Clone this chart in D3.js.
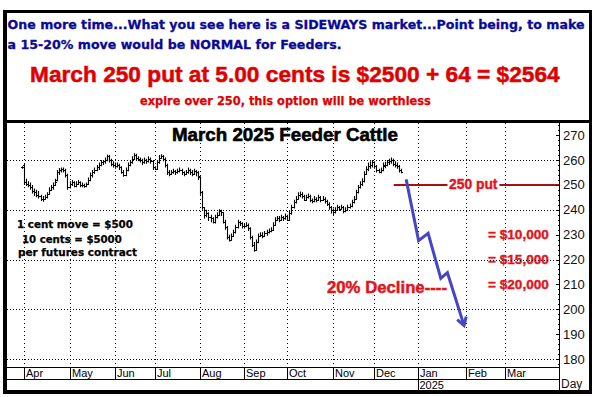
<!DOCTYPE html>
<html><head><meta charset="utf-8">
<script src="https://cdn.jsdelivr.net/npm/d3@7"></script>
<style>body{margin:0;background:#fff}svg{display:block}</style>
</head><body>
<svg id="c" width="600" height="397"></svg>
<script>
// ---- data (daily bars, trading-day index; index 0 = first trading day of April 2024) ----
const firstBarIndex = -1;
const barOpen = [257,258,251,250.5,250,249,247.5,247,246,245.5,244.5,244.5,245,246.5,248,249,250,252,255,256,256.5,256,254,249,250.5,251,249.5,250.5,251,250,250,249.5,250.5,252,254,255,256,257,258,259,259.5,260,261.5,260,258.5,258,257.5,258,257,255,254,256,258,259,260.5,262,261,260.5,260,259,260,259.5,260.5,259.5,257,256.5,259,261,261.5,260.5,258,255,254.5,255,255.5,255,255.5,256,255,254.5,255,256,255,254.5,255.5,255,253,247,241,238,238.5,237,236.5,235,237,238,239.5,239,235,233,229,228,229.5,231,233,235,234.5,233.5,233.5,234,232.5,229,226,224,227,229.5,230,229.5,230.5,231,231.5,232,234,236,236.5,236,237,236.5,237.5,236,238.5,241,243,244.5,246,246.5,245.5,244,245,245.5,244,243.5,244.5,244,245,244,244.5,243.5,242.5,241,240,239,240,241,240.5,241,239.5,240,241,241.5,243,244.5,247,249,250.5,251.5,254.5,256.5,257.5,258,259,257.5,256,255,256,258,258,259,259.5,260,258.5,258,257.5,256];
const barHigh = [257.5,258.5,252.5,251.5,251,250,248.5,248,247.5,246,245.5,246,247,249,250,251,252.5,256,256.8,257,257,256.5,254.5,251.5,252,251.5,251.5,252,251.5,251,250.5,251,253,255,256,257,258,259,260,260,261,262.2,262,260.5,259.5,259,259,258.5,257.5,256,257,259,260,261.5,262.7,262.5,261.5,261,260.5,261,260.5,261.5,261,260,257.5,260,262,262.3,262,261,258.5,256,256,256.5,256,256.5,257,256.5,255.5,256,257,256.5,256,256.5,256,255.5,253.5,247.5,241,240,239,238,237,238,239,240.2,240,239,236,233.5,230,230.5,232,234,236,235.5,235,234.5,235,234.5,233,229.5,227,228,230.5,231,231,231.5,232,232.5,233,235,237,237.5,237.5,238,237.5,238.5,238,239.5,242,244,245.5,247,247.3,247,246,246,246.5,246,244.5,245.5,245,246,245.5,245.5,245,244,243,241.5,240.5,241,242,241.5,242,241.5,241,242,242.5,244,245.5,248,250,251.5,252.7,255.5,257.5,259,259.5,260,259.5,258,256.5,257,259,259.3,260,260.5,261,260.5,259.5,259,258,256.5];
const barLow = [256.5,250,249.5,249,248,246.5,245.5,245,244.5,243.5,243.2,244,244.5,246,247.5,248,249.5,251.5,254,255,255,253,248,248.5,249.5,249,249,250,249,249,248.8,249,250,251.5,253,254.5,255.5,256,257.5,258,258.5,259.5,259,257.5,257,256.5,257,256,254.5,253.3,253.5,255.5,257.5,258.5,260,260,259.5,259,258,258.5,258.5,259,258.5,256,256,256,258.5,260.5,259.5,257,254,253.5,254,254.5,254,254.5,255,254,253.5,254,254.5,254,253.5,254,253.5,252,246,240,236.5,237,235.5,235,234.5,234.5,236.5,237.5,237.5,234.5,232,228,227.2,227.5,229,230.5,232.5,233.5,232.5,232.5,233,231.5,228,225,223.1,223.5,226.5,229,228.5,229,229.5,230.5,231,231.5,233.5,235.5,235,235.5,235.5,236,235.5,235.5,238,240.5,242.5,244,245,244.5,243.5,243.5,244.5,243,242.6,243,243,243.5,243,243.5,242.5,241.5,240,238.5,237.9,238.5,239.5,239.5,240,238.6,239,239.5,240.5,241,242.5,244,246.5,248.5,249.5,251,254,255.5,256.5,257,256.5,255,254.7,254.7,255.5,256.7,257.5,258,258.5,257.5,257,256.5,255,254.7];
const barClose = [257,251,250.5,250,249,247.5,247,246,245.5,244.5,244.5,245,246.5,248,249,250,251,255,256,256.5,256,254,249,250.5,251,249.5,250.5,251,250,250,249.5,250.5,252,254,255,256,257,258,259,259.5,260,261.5,260,258.5,258,257.5,258,257,255,254,256,258,259,260.5,262,261,260.5,260,259,260,259.5,260.5,259.5,257,256.5,259,261,261.5,260.5,258,255,254.5,255,255.5,255,255.5,256,255,254.5,255,256,255,254.5,255.5,255,253.5,247,241,238,238.5,237,236.5,235,237,238,239.5,239,235,233,229,228,229.5,231,233,235,234.5,233.5,233.5,234,232.5,229,226,224,227,229.5,230,229.5,230.5,231,231.5,232,234,236,236.5,236,237,236.5,237.5,236,238.5,241,243,244.5,246,246.5,245.5,244,245,245.5,244,243.5,244.5,244,245,244,244.5,243.5,242.5,241,240,239,240,241,240.5,241,239.5,240,241,241.5,243,244.5,247,249,250.5,251.5,254.5,256.5,257.5,258,259,257.5,256,255,256,257.5,258,259,259.5,260,258.5,258,257.5,256,255];

const monthLabels = ["Apr","May","Jun","Jul","Aug","Sep","Oct","Nov","Dec","Jan","Feb","Mar"];
const monthStarts = [0,22,44,63,85,106,127,149,169,190,213,232];
const yearLabels = ["2025"];
const yearStarts = [190];
const priceTicks = [180,190,200,210,220,230,240,250,260,270];
const gridPrices = [180,200,220,240,260];

const arrowIdx   = [184.3,190.3,194.9,201.0,204.2,212.2];
const arrowPrice = [252.2,227.6,230.5,212.4,214.7,193.5];
const putStrike = 250, putStartIdx = 178.3;
const payoffLabels = ["= $10,000","= $15,000","= $20,000"];
const payoffPrices = [230,220,210];
const noteLines = ["1 cent move = $500","10 cents = $5000","per futures contract"];

// ---- layout ----
const svg = d3.select("#c");
const L = 6.7, R = 559, T = 122.5, B = 367;
const x = d3.scaleLinear().domain([-8.3, 258]).range([L, R]);
const y = d3.scaleLinear().domain([180, 260]).range([359, 160]);
const ARIAL = "'Liberation Sans', Arial, sans-serif";
const VERD = "'DejaVu Sans', Verdana, sans-serif";

function fit(sel, w){
  const fs = parseFloat(sel.attr("font-size"));
  const len = sel.node().getComputedTextLength();
  sel.attr("font-size", (fs*w/len).toFixed(2));
  return sel;
}
function heavy(sel, col, w){ return sel.attr("stroke", col).attr("stroke-width", w).attr("paint-order","stroke"); }

svg.append("rect").attr("width",600).attr("height",397).attr("fill","#fff");

// header text
const l1 = svg.append("text").attr("x",7.5).attr("y",28.5).attr("font-family",VERD)
  .attr("font-weight","bold").attr("font-size",11).attr("fill","#0a0a96")
  .text("One more time...What you see here is a SIDEWAYS market...Point being, to make");
fit(l1, 577); heavy(l1,"#0a0a96",0.3);
const l2 = svg.append("text").attr("x",7.5).attr("y",48.5).attr("font-family",VERD)
  .attr("font-weight","bold").attr("font-size",l1.attr("font-size")).attr("fill","#0a0a96")
  .text("a 15-20% move would be NORMAL for Feeders.");
heavy(l2,"#0a0a96",0.3);
const l3 = svg.append("text").attr("x",30).attr("y",82).attr("font-family",ARIAL)
  .attr("font-weight","bold").attr("font-size",20).attr("fill","#e00000")
  .text("March 250 put at 5.00 cents is $2500 + 64 = $2564");
fit(l3, 530); heavy(l3,"#e00000",0.5);
const l4 = svg.append("text").attr("x",140).attr("y",104.5).attr("font-family",VERD)
  .attr("font-weight","bold").attr("font-size",10).attr("fill","#e00000")
  .text("expire over 250, this option will be worthless");
fit(l4, 291); heavy(l4,"#e00000",0.25);

// grid
const g = svg.append("g");
g.selectAll(".hg").data(gridPrices).join("line")
  .attr("x1",L).attr("x2",R).attr("y1",d=>Math.round(y(d))+0.5).attr("y2",d=>Math.round(y(d))+0.5)
  .attr("stroke","#000").attr("stroke-dasharray","1,2").attr("shape-rendering","crispEdges");
g.selectAll(".vg").data(monthStarts).join("line")
  .attr("x1",d=>Math.round(x(d))+0.5).attr("x2",d=>Math.round(x(d))+0.5).attr("y1",T).attr("y2",B)
  .attr("stroke","#000").attr("stroke-dasharray","1,3").attr("shape-rendering","crispEdges");

// title
const tt = svg.append("text").attr("x",172).attr("y",140.5).attr("font-family",ARIAL)
  .attr("font-weight","bold").attr("font-size",16).attr("fill","#000").text("March 2025 Feeder Cattle");
fit(tt, 226); heavy(tt,"#000",0.6);

// left notes
const noteX = [17,22,18], noteW = [116,100,119], noteY = [228,242.5,256];
noteLines.forEach((s,i)=>{
  const t = svg.append("text").attr("x",noteX[i]).attr("y",noteY[i]).attr("font-family",VERD)
    .attr("font-weight","bold").attr("font-size",10).attr("fill","#000").text(s);
  fit(t, noteW[i]); heavy(t,"#000",0.25);
});

// bars
const bars = d3.range(barClose.length).map(k=>({i:firstBarIndex+k,o:barOpen[k],h:barHigh[k],l:barLow[k],c:barClose[k]}));
svg.append("g").selectAll("path").data(bars).join("path")
  .attr("d",d=>{
    const xx = Math.round(x(d.i))+0.5;
    const yo = Math.round(y(d.o))+0.5, yc = Math.round(y(d.c))+0.5;
    return `M${xx},${y(d.h)}V${y(d.l)}M${xx-1.5},${yo}H${xx}M${xx},${yc}H${xx+1.5}`;
  })
  .attr("stroke","#000").attr("stroke-width",1.1).attr("fill","none");

// 250 put line
const py = y(putStrike);
svg.append("line").attr("x1",x(putStartIdx)).attr("x2",R).attr("y1",py).attr("y2",py)
  .attr("stroke","#a80f14").attr("stroke-width",2);
const putT = svg.append("text").attr("x",449).attr("y",py+4.5).attr("font-family",ARIAL)
  .attr("font-weight","bold").attr("font-size",13).attr("fill","#e3141b").text("250 put");
fit(putT, 48.5);
const bb = putT.node().getBBox();
svg.append("rect").attr("x",bb.x-1.5).attr("y",py-2).attr("width",bb.width+3).attr("height",4).attr("fill","#fff");
putT.raise(); heavy(putT,"#e3141b",0.4);

// payoff labels
payoffLabels.forEach((s,i)=>{
  const t = svg.append("text").attr("x",488).attr("y",y(payoffPrices[i])+4.5)
    .attr("font-family",ARIAL).attr("font-weight","bold")
    .attr("font-size",13).attr("fill","#e3141b").text(s);
  fit(t, 61); heavy(t,"#e3141b",0.4);
});
// the 220 gridline runs over the $15,000 label in the reference
svg.append("line").attr("x1",L).attr("x2",R).attr("y1",Math.round(y(220))+0.5).attr("y2",Math.round(y(220))+0.5)
  .attr("stroke","#000").attr("stroke-dasharray","1,2").attr("shape-rendering","crispEdges");

const dec = svg.append("text").attr("x",327).attr("y",293).attr("font-family",ARIAL)
  .attr("font-weight","bold").attr("font-size",16).attr("fill","#e3141b").text("20% Decline----");
fit(dec, 120); heavy(dec,"#e3141b",0.5);

// arrow
const pts = arrowIdx.map((d,k)=>[x(d), y(arrowPrice[k])]);
svg.append("path").attr("d", d3.line()(pts)).attr("fill","none").attr("stroke","#4646c3")
  .attr("stroke-width",3).attr("stroke-linejoin","miter");
const tip = pts[pts.length-1], prev = pts[pts.length-2];
const ang = Math.atan2(tip[1]-prev[1], tip[0]-prev[0]);
const head = [ang+Math.PI-0.55, ang+Math.PI+0.55].map(a=>[tip[0]+9*Math.cos(a), tip[1]+9*Math.sin(a)]);
svg.append("path").attr("d", d3.line()([head[0], tip, head[1]])).attr("fill","none")
  .attr("stroke","#4646c3").attr("stroke-width",3).attr("stroke-linejoin","miter");

// axis
const ax = svg.append("g").attr("shape-rendering","crispEdges");
ax.append("line").attr("x1",R+0.5).attr("x2",R+0.5).attr("y1",T).attr("y2",390).attr("stroke","#000");
const minor = d3.range(178, 276, 2);
ax.selectAll(".mt").data(minor).join("line")
  .attr("x1",d=>d%10===0?R-3:R-1.5).attr("x2",R).attr("y1",d=>Math.round(y(d))+0.5).attr("y2",d=>Math.round(y(d))+0.5)
  .attr("stroke","#000");
svg.selectAll(".tl").data(priceTicks).join("text")
  .attr("x",563).attr("y",d=>y(d)+4.6).attr("font-family",ARIAL)
  .attr("font-size",13).attr("fill","#111").text(d=>d);
svg.append("text").attr("x",561).attr("y",387.5).attr("font-family",ARIAL)
  .attr("font-size",12).attr("fill","#111").text("Day");

// month rows
ax.append("line").attr("x1",L).attr("x2",R).attr("y1",B+0.5).attr("y2",B+0.5).attr("stroke","#000");
ax.append("line").attr("x1",L).attr("x2",R).attr("y1",379.5).attr("y2",379.5).attr("stroke","#000");
ax.selectAll(".ms").data(monthStarts).join("line")
  .attr("x1",d=>Math.round(x(d))+0.5).attr("x2",d=>Math.round(x(d))+0.5).attr("y1",B).attr("y2",379.5).attr("stroke","#000");
ax.selectAll(".ys").data(yearStarts).join("line")
  .attr("x1",d=>Math.round(x(d))+0.5).attr("x2",d=>Math.round(x(d))+0.5).attr("y1",379.5).attr("y2",390).attr("stroke","#000");
svg.selectAll(".ml").data(monthLabels).join("text")
  .attr("x",(d,k)=>Math.round(x(monthStarts[k]))+2).attr("y",377).attr("font-family",ARIAL)
  .attr("font-size",11).attr("fill","#000").text(d=>d);
svg.selectAll(".yl").data(yearLabels).join("text")
  .attr("x",(d,k)=>Math.round(x(yearStarts[k]))+1.5).attr("y",388.5).attr("font-family",ARIAL)
  .attr("font-size",11).attr("fill","#000").text(d=>d);

// frame
const fr = svg.append("g").attr("fill","#000").attr("shape-rendering","crispEdges");
fr.append("rect").attr("x",3).attr("y",10).attr("width",589).attr("height",2.5);
fr.append("rect").attr("x",3).attr("y",120).attr("width",589).attr("height",2.7);
fr.append("rect").attr("x",3).attr("y",10).attr("width",3.7).attr("height",384);
fr.append("rect").attr("x",589).attr("y",10).attr("width",3).attr("height",384);
fr.append("rect").attr("x",3).attr("y",390).attr("width",589).attr("height",3.5);
</script>
</body></html>
